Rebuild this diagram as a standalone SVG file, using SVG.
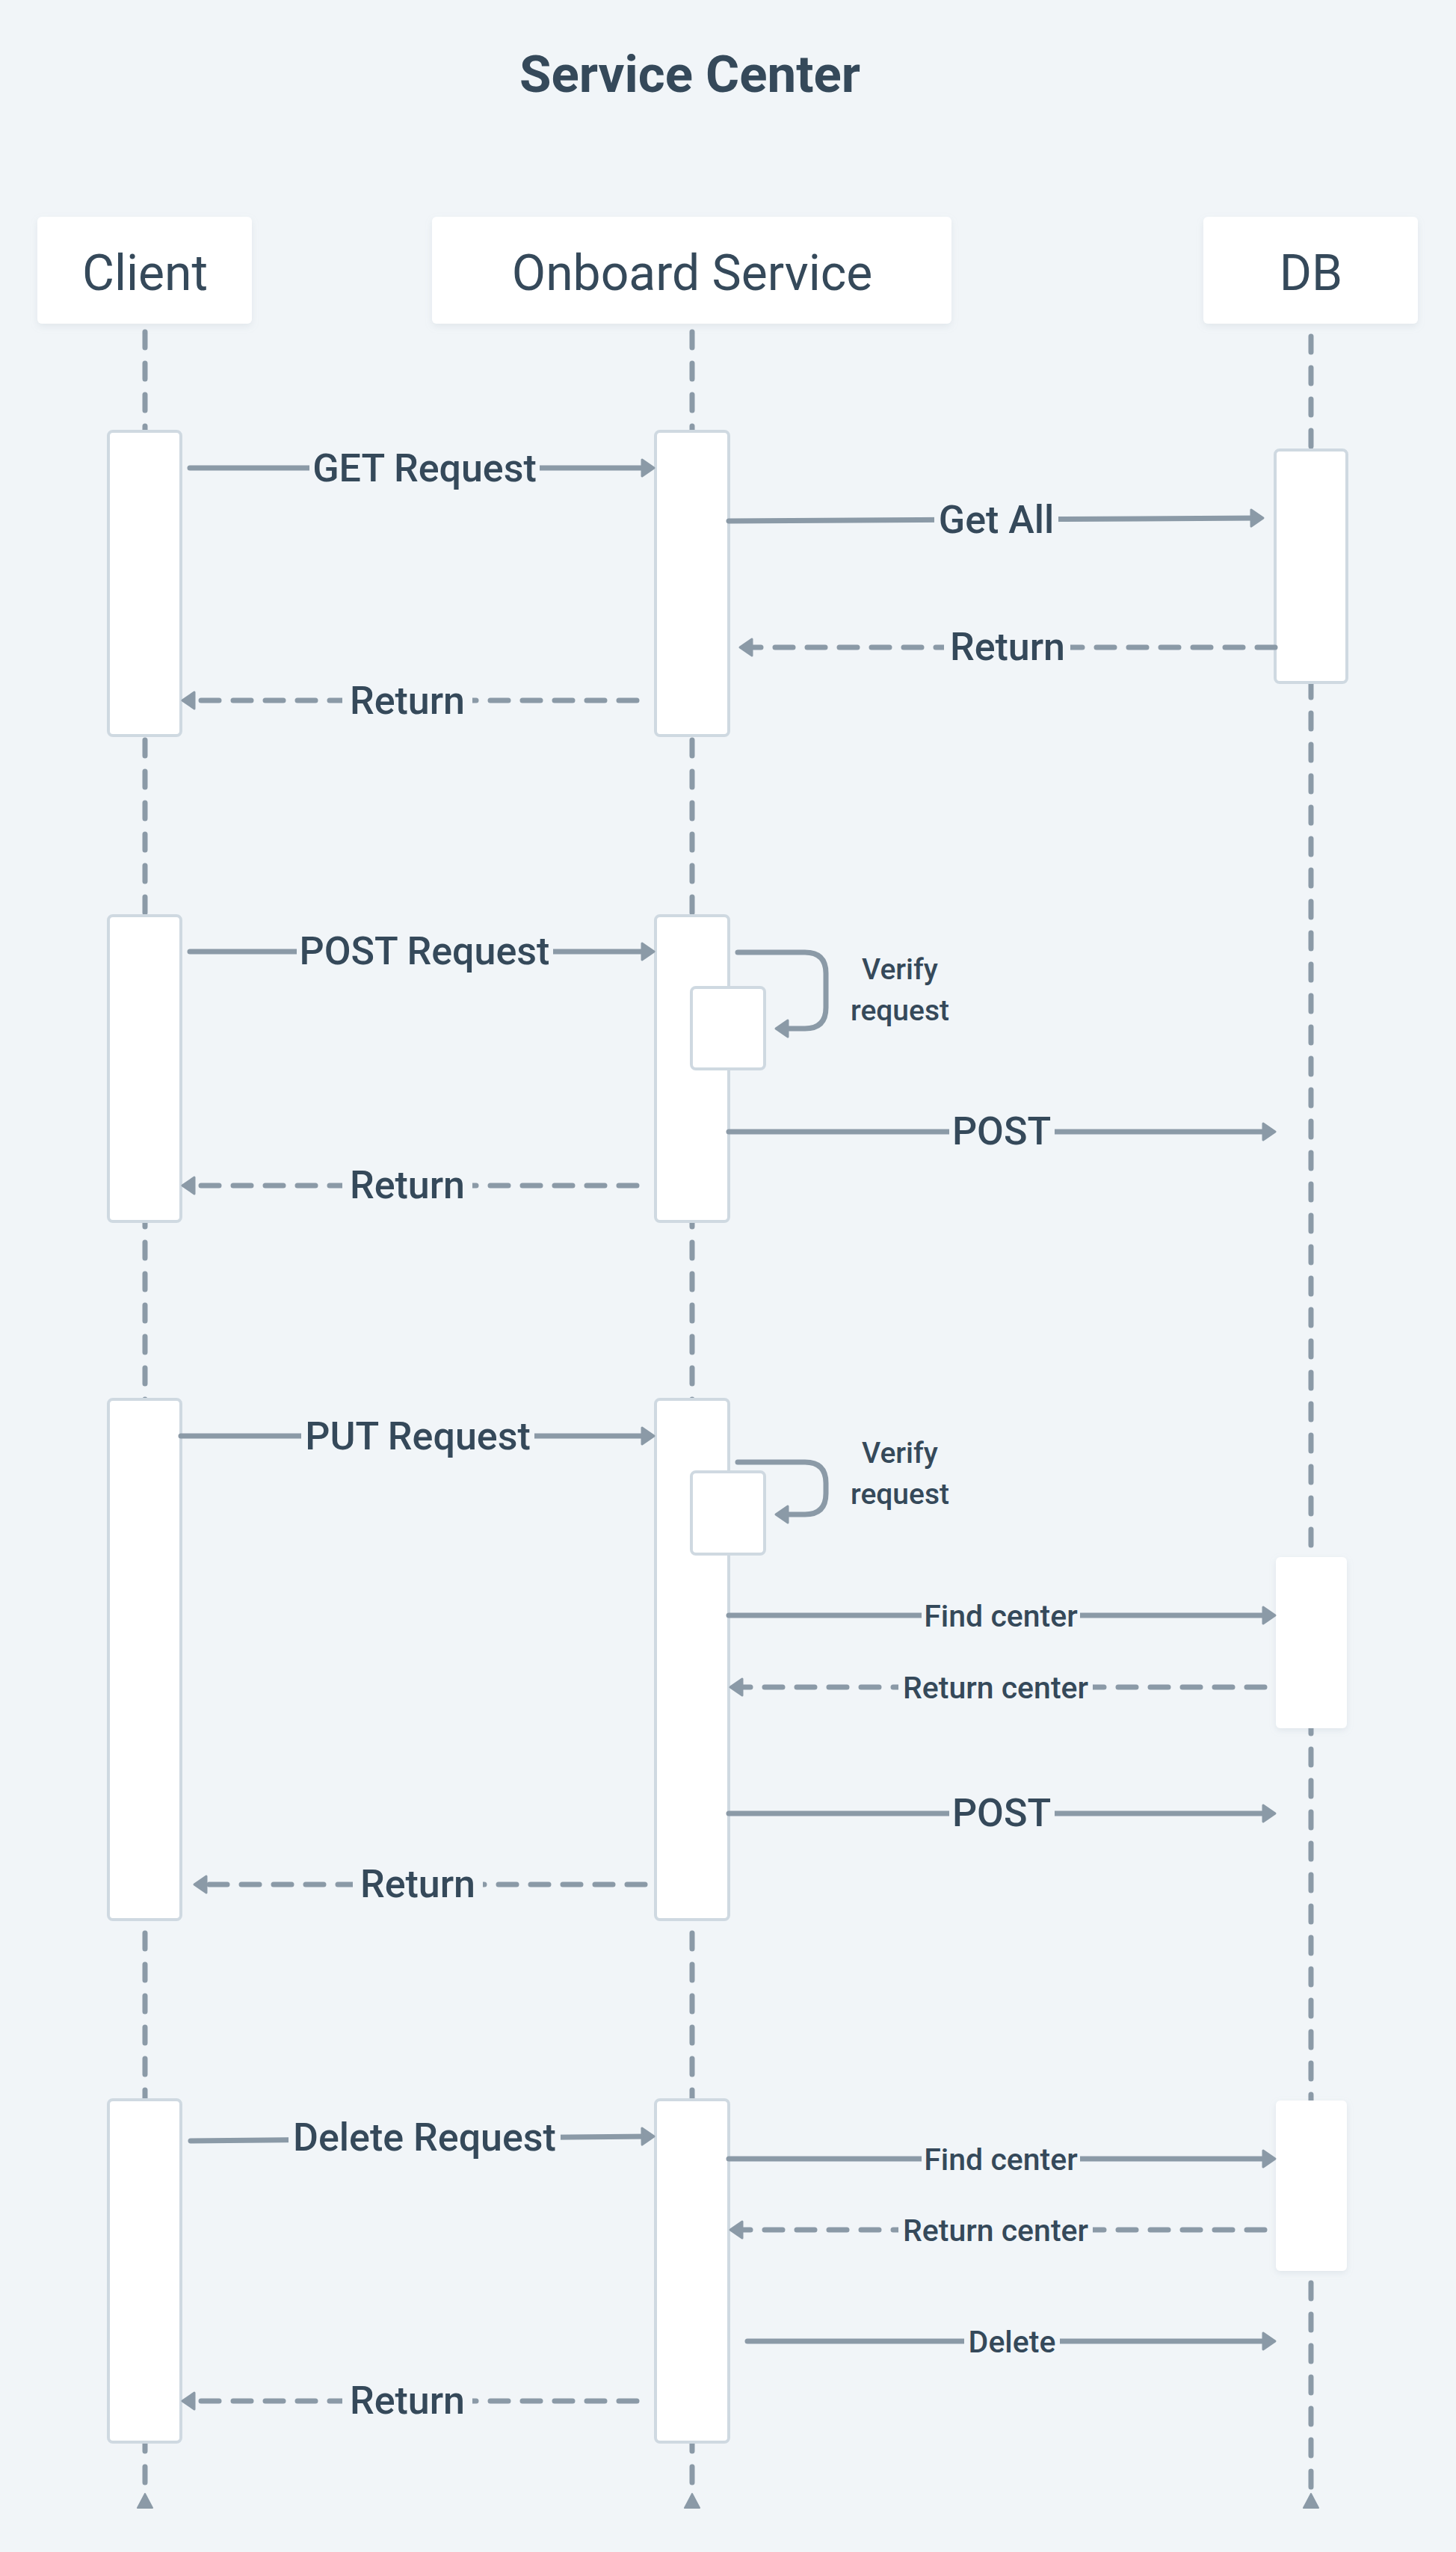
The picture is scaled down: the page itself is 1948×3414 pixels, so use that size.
<svg xmlns="http://www.w3.org/2000/svg" width="1948" height="3414" viewBox="0 0 1948 3414">
<style>
.hdr{fill:#ffffff;filter:url(#sh)}
.hdrt{font-family:Roboto,"Noto Sans",sans-serif;font-size:66px;fill:#35495a;text-anchor:middle}
.title{font-family:Roboto,"Noto Sans",sans-serif;font-size:69px;font-weight:bold;fill:#35495a;text-anchor:middle}
.life{stroke:#8b9aa7;stroke-width:7;stroke-linecap:round;stroke-dasharray:21 21;fill:none}
.act{fill:#ffffff;stroke:#cfd9e1;stroke-width:4}
.actn{fill:#ffffff;filter:url(#sh2)}
.msg{stroke:#8b9aa7;stroke-width:7;stroke-linecap:round;fill:none;marker-end:url(#ah)}
.dash{stroke-dasharray:24 19}
.lbg{fill:#f1f5f8}
.lb{font-family:Roboto,"Noto Sans",sans-serif;font-size:52px;font-weight:500;fill:#35495a;text-anchor:middle}
.ls{font-family:Roboto,"Noto Sans",sans-serif;font-size:41px;font-weight:500;fill:#35495a;text-anchor:middle}
.lv{font-family:Roboto,"Noto Sans",sans-serif;font-size:39px;font-weight:500;fill:#35495a;text-anchor:middle}
.end{fill:#8b9aa7}
</style>
<defs>
<filter id="sh" x="-10%" y="-10%" width="120%" height="130%"><feDropShadow dx="0" dy="4" stdDeviation="5" flood-color="#9aa8b5" flood-opacity="0.18"/></filter>
<filter id="sh2" x="-20%" y="-10%" width="140%" height="120%"><feDropShadow dx="0" dy="3" stdDeviation="4" flood-color="#9aa8b5" flood-opacity="0.2"/></filter>
<marker id="ah" markerUnits="userSpaceOnUse" markerWidth="30" markerHeight="30" refX="12" refY="13" orient="auto" overflow="visible">
<path d="M2,2 L18,13 L2,24 Z" fill="#8b9aa7" stroke="#8b9aa7" stroke-width="3" stroke-linejoin="round"/>
</marker>
</defs>
<rect width="1948" height="3414" fill="#f1f5f8"/>
<text class="title" x="923" y="123">Service Center</text>

<g id="lifelines">
<line class="life" x1="194" y1="444" x2="194" y2="3336"/>
<line class="life" x1="926" y1="444" x2="926" y2="3336"/>
<line class="life" x1="1754" y1="450" x2="1754" y2="3336"/>
<polygon class="end" points="194,3336 184,3355 204,3355" stroke="#8b9aa7" stroke-width="2" stroke-linejoin="round"/>
<polygon class="end" points="926,3336 916,3355 936,3355" stroke="#8b9aa7" stroke-width="2" stroke-linejoin="round"/>
<polygon class="end" points="1754,3336 1744,3355 1764,3355" stroke="#8b9aa7" stroke-width="2" stroke-linejoin="round"/>
</g>

<g id="client">
<rect class="hdr" x="50" y="290" width="287" height="143" rx="6"/>
<text class="hdrt" x="194" y="388">Client</text>
</g>
<g id="onboard">
<rect class="hdr" x="578" y="290" width="695" height="143" rx="6"/>
<text class="hdrt" x="926" y="388">Onboard Service</text>
</g>
<g id="db">
<rect class="hdr" x="1610" y="290" width="287" height="143" rx="6"/>
<text class="hdrt" x="1754" y="388">DB</text>
</g>

<g id="activations">
<rect id="act-client-1" class="act" x="145" y="577" width="97" height="407" rx="6"/>
<rect id="act-onboard-1" class="act" x="877" y="577" width="98" height="407" rx="6"/>
<rect id="act-db-1" class="act" x="1706" y="602" width="96" height="311" rx="6"/>

<rect id="act-client-2" class="act" x="145" y="1225" width="97" height="409" rx="6"/>
<rect id="act-onboard-2" class="act" x="877" y="1225" width="98" height="409" rx="6"/>
<rect id="act-self-2" class="act" x="925" y="1321" width="98" height="109" rx="6"/>

<rect id="act-client-3" class="act" x="145" y="1872" width="97" height="696" rx="6"/>
<rect id="act-onboard-3" class="act" x="877" y="1872" width="98" height="696" rx="6"/>
<rect id="act-self-3" class="act" x="925" y="1969" width="98" height="110" rx="6"/>
<rect id="act-db-3" class="actn" x="1707" y="2083" width="95" height="229" rx="6"/>

<rect id="act-client-4" class="act" x="145" y="2809" width="97" height="458" rx="6"/>
<rect id="act-onboard-4" class="act" x="877" y="2809" width="98" height="458" rx="6"/>
<rect id="act-db-4" class="actn" x="1707" y="2810" width="95" height="228" rx="6"/>
</g>

<g id="connectors">
<!-- Block 1 -->
<line class="msg" x1="254" y1="626" x2="869" y2="626"/>
<rect class="lbg" x="414" y="606" width="308" height="40"/>
<text class="lb" x="568" y="644">GET Request</text>

<line class="msg" x1="975" y1="697" x2="1684" y2="693"/>
<rect class="lbg" x="1250" y="675" width="166" height="40"/>
<text class="lb" x="1333" y="713">Get All</text>

<line class="msg dash" x1="1706" y1="866" x2="996" y2="866"/>
<rect class="lbg" x="1263" y="846" width="169" height="40"/>
<text class="lb" x="1348" y="883">Return</text>

<line class="msg dash" x1="852" y1="937" x2="250" y2="937"/>
<rect class="lbg" x="458" y="917" width="174" height="40"/>
<text class="lb" x="545" y="955">Return</text>

<!-- Block 2 -->
<line class="msg" x1="254" y1="1273" x2="869" y2="1273"/>
<rect class="lbg" x="397" y="1253" width="343" height="40"/>
<text class="lb" x="568" y="1290">POST Request</text>

<path class="msg" d="M987,1274 H1077 Q1105,1274 1105,1302 V1348 Q1105,1376 1077,1376 H1044"/>
<text class="lv" x="1204" y="1310">Verify</text>
<text class="lv" x="1204" y="1365">request</text>

<line class="msg" x1="975" y1="1514" x2="1700" y2="1514"/>
<rect class="lbg" x="1270" y="1494" width="141" height="40"/>
<text class="lb" x="1340" y="1531">POST</text>

<line class="msg dash" x1="852" y1="1586" x2="250" y2="1586"/>
<rect class="lbg" x="458" y="1566" width="174" height="40"/>
<text class="lb" x="545" y="1603">Return</text>

<!-- Block 3 -->
<line class="msg" x1="242" y1="1921" x2="869" y2="1921"/>
<rect class="lbg" x="403" y="1901" width="312" height="40"/>
<text class="lb" x="559" y="1939">PUT Request</text>

<path class="msg" d="M987,1956 H1077 Q1105,1956 1105,1984 V1998 Q1105,2026 1077,2026 H1044"/>
<text class="lv" x="1204" y="1957">Verify</text>
<text class="lv" x="1204" y="2012">request</text>

<line class="msg" x1="975" y1="2161" x2="1700" y2="2161"/>
<rect class="lbg" x="1233" y="2145" width="212" height="32"/>
<text class="ls" x="1339" y="2176">Find center</text>

<line class="msg dash" x1="1692" y1="2257" x2="983" y2="2257"/>
<rect class="lbg" x="1202" y="2241" width="260" height="32"/>
<text class="ls" x="1332" y="2272">Return center</text>

<line class="msg" x1="975" y1="2426" x2="1700" y2="2426"/>
<rect class="lbg" x="1270" y="2406" width="141" height="40"/>
<text class="lb" x="1340" y="2443">POST</text>

<line class="msg dash" x1="863" y1="2521" x2="266" y2="2521"/>
<rect class="lbg" x="472" y="2501" width="174" height="40"/>
<text class="lb" x="559" y="2538">Return</text>

<!-- Block 4 -->
<line class="msg" x1="255" y1="2864" x2="869" y2="2858"/>
<rect class="lbg" x="386" y="2841" width="364" height="40"/>
<text class="lb" x="568" y="2877">Delete Request</text>

<line class="msg" x1="975" y1="2888" x2="1700" y2="2888"/>
<rect class="lbg" x="1233" y="2872" width="212" height="32"/>
<text class="ls" x="1339" y="2903">Find center</text>

<line class="msg dash" x1="1692" y1="2983" x2="983" y2="2983"/>
<rect class="lbg" x="1202" y="2967" width="260" height="32"/>
<text class="ls" x="1332" y="2998">Return center</text>

<line class="msg" x1="1000" y1="3132" x2="1700" y2="3132"/>
<rect class="lbg" x="1290" y="3116" width="128" height="32"/>
<text class="ls" x="1354" y="3147">Delete</text>

<line class="msg dash" x1="852" y1="3212" x2="250" y2="3212"/>
<rect class="lbg" x="458" y="3192" width="174" height="40"/>
<text class="lb" x="545" y="3229">Return</text>
</g>
</svg>
